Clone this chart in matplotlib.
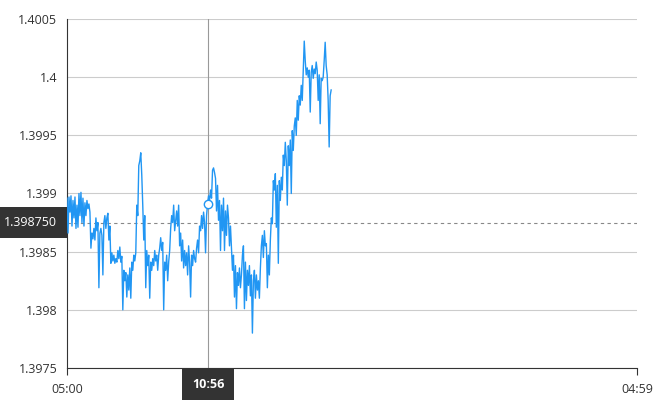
import pandas as pd
import numpy as np
import matplotlib
matplotlib.use('Agg')
import matplotlib.pyplot as plt
import matplotlib.dates as mdates

plt.rcParams['font.family'] = ['Open Sans', 'DejaVu Sans']

# price series, one sample about every 2.5 minutes from 05:00
prices = [
    1.39896, 1.39866, 1.39897, 1.39884, 1.39898, 1.39872, 1.39894, 1.39879, 1.39897, 1.39870,
    1.39890, 1.39871, 1.39900, 1.39881, 1.39901, 1.39875, 1.39896, 1.39872, 1.39892, 1.39881,
    1.39894, 1.39887, 1.39891, 1.39884, 1.39853, 1.39866, 1.39861, 1.39870, 1.39860, 1.39879,
    1.39868, 1.39875, 1.39819, 1.39866, 1.39870, 1.39864, 1.39830, 1.39875, 1.39881, 1.39870,
    1.39879, 1.39883, 1.39860, 1.39872, 1.39840, 1.39849, 1.39842, 1.39847, 1.39840, 1.39844,
    1.39841, 1.39851, 1.39844, 1.39854, 1.39841, 1.39846, 1.39800, 1.39834, 1.39825, 1.39832,
    1.39811, 1.39830, 1.39817, 1.39836, 1.39810, 1.39841, 1.39834, 1.39847, 1.39842, 1.39849,
    1.39890, 1.39881, 1.39924, 1.39928, 1.39935, 1.39916, 1.39890, 1.39860, 1.39881, 1.39819,
    1.39851, 1.39838, 1.39847, 1.39810, 1.39841, 1.39834, 1.39844, 1.39838, 1.39851, 1.39842,
    1.39847, 1.39834, 1.39847, 1.39853, 1.39862, 1.39851, 1.39858, 1.39800, 1.39841, 1.39834,
    1.39847, 1.39825, 1.39841, 1.39851, 1.39870, 1.39881, 1.39875, 1.39890, 1.39868, 1.39877,
    1.39885, 1.39872, 1.39890, 1.39855, 1.39866, 1.39842, 1.39860, 1.39836, 1.39851, 1.39838,
    1.39849, 1.39830, 1.39855, 1.39841, 1.39811, 1.39847, 1.39838, 1.39851, 1.39844, 1.39841,
    1.39853, 1.39860, 1.39849, 1.39872, 1.39868, 1.39881, 1.39870, 1.39884, 1.39875, 1.39849,
    1.39881, 1.39891, 1.39898, 1.39894, 1.39903, 1.39896, 1.39920, 1.39922, 1.39918, 1.39913,
    1.39885, 1.39907, 1.39877, 1.39894, 1.39851, 1.39890, 1.39868, 1.39896, 1.39851, 1.39885,
    1.39864, 1.39890, 1.39879, 1.39855, 1.39872, 1.39853, 1.39834, 1.39847, 1.39811, 1.39838,
    1.39801, 1.39832, 1.39821, 1.39836, 1.39819, 1.39830, 1.39847, 1.39855, 1.39801, 1.39841,
    1.39808, 1.39834, 1.39821, 1.39838, 1.39812, 1.39830, 1.39780, 1.39825, 1.39834, 1.39810,
    1.39830, 1.39817, 1.39825, 1.39810, 1.39836, 1.39855, 1.39864, 1.39845, 1.39868, 1.39855,
    1.39857, 1.39819, 1.39847, 1.39830, 1.39860, 1.39879, 1.39874, 1.39911, 1.39903, 1.39917,
    1.39871, 1.39907, 1.39840, 1.39911, 1.39894, 1.39914, 1.39903, 1.39933, 1.39924, 1.39944,
    1.39928, 1.39890, 1.39941, 1.39924, 1.39946, 1.39900, 1.39954, 1.39937, 1.39958, 1.39965,
    1.39950, 1.39980, 1.39963, 1.39984, 1.39976, 1.39993, 1.39980, 1.40006, 1.40031, 1.40014,
    1.40002, 1.40008, 1.40000, 1.40006, 1.39970, 1.40004, 1.40010, 1.39999, 1.40007, 1.40003,
    1.40013, 1.40006, 1.39980, 1.40002, 1.39960, 1.39999, 1.39997, 1.40000, 1.40014, 1.40030,
    1.40010, 1.40002, 1.39980, 1.39940, 1.39984, 1.39989,
]
y_ticks = [1.3975, 1.398, 1.3985, 1.399, 1.3995, 1.4, 1.4005]
y_tick_labels = ['1.3975', '1.398', '1.3985', '1.399', '1.3995', '1.4', '1.4005']
cursor_time = '2024-01-01 10:56'
cursor_price = 1.39875

times = pd.date_range('2024-01-01 05:00', periods=len(prices), freq='151s')
x_start = pd.Timestamp('2024-01-01 05:00')
x_end = pd.Timestamp('2024-01-02 04:59')

fig = plt.figure(figsize=(6.7, 4), dpi=100)
ax = fig.add_axes([0.1, 0.08, 0.8507, 0.8725])

ax.plot(times, prices, color='#2196F3', lw=1.0, zorder=3)

ax.set_xlim(x_start, x_end)
ax.set_ylim(1.3975, 1.4005)
ax.set_yticks(y_ticks)
ax.set_yticklabels(y_tick_labels)
ax.set_xticks([x_start, x_end])
ax.xaxis.set_major_formatter(mdates.DateFormatter('%H:%M'))

ax.grid(axis='y', color='#cccccc', lw=0.8)
ax.set_axisbelow(True)
for s in ['top', 'right']:
    ax.spines[s].set_visible(False)
ax.spines['left'].set_color('#333333')
ax.spines['bottom'].set_color('#333333')
ax.tick_params(axis='y', length=0, pad=7, labelsize=9, labelcolor='#333333')
ax.tick_params(axis='x', length=5, width=0.8, color='#333333', pad=6,
               labelsize=9, labelcolor='#333333')

# crosshair
ct = pd.Timestamp(cursor_time)
ax.axvline(ct, color='#999999', lw=0.8, zorder=2)
ax.axhline(cursor_price, color='#888888', lw=0.8, ls=(0, (3, 3)), zorder=2)
i = int(np.argmin(np.abs((times - ct).total_seconds())))
ax.plot([times[i]], [prices[i]], 'o', ms=6, mfc='white', mec='#2196F3', mew=1, zorder=4)

ax.annotate(f'{cursor_price:.6f}', xy=(0, cursor_price),
            xycoords=('axes fraction', 'data'), xytext=(-7, 0),
            textcoords='offset points', ha='right', va='center',
            fontsize=9, color='white', annotation_clip=False,
            bbox=dict(boxstyle='square,pad=0.75', fc='#333333', ec='none'))
ax.annotate(ct.strftime('%H:%M'), xy=(ct, 0), xycoords=('data', 'axes fraction'),
            xytext=(0, -12), textcoords='offset points', ha='center', va='center',
            fontsize=9, color='white', fontweight='bold', annotation_clip=False,
            bbox=dict(boxstyle='square,pad=0.75', fc='#333333', ec='none'))

plt.savefig('out.png', dpi=100)
